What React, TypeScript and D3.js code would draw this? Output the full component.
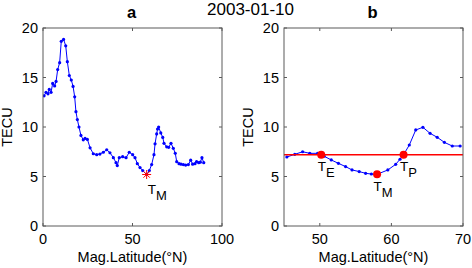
import React from "react";
import * as d3 from "d3";

const latA = [0.6,1.7,2.8,3.5,4.5,5.4,6.5,7.3,8.2,9.3,10.2,11.5,12.7,13.6,14.7,15.8,16.8,17.7,18.4,19.2,20.1,21.2,22.5,23.5,24.8,26.3,28.1,30,31.8,33.7,35.6,37.4,39.3,40.8,41.5,42.6,44.5,46.4,48.2,50.1,51.4,52.7,54.2,55.7,57.9,59.4,60.7,62,62.6,63.5,64.0,64.6,65.8,66.9,67.6,69.1,70.2,71.5,72.8,73.9,74.7,76,77.1,78.4,79.7,81.2,82.5,83.6,84.9,85.8,87,87.9,88.8,89.8];
const tecA = [13.15,13.5,13.35,13.8,13.5,14.4,14.15,14.6,15.8,16.5,18.65,18.85,18.2,16.6,15.2,14.75,14.1,13.05,11.55,10.75,10.0,9.15,8.7,8.85,8.75,7.9,7.3,7.2,7.27,7.45,7.7,7.4,6.9,6.4,6.1,6.9,7.0,6.9,7.45,7.2,6.9,6.3,5.9,5.6,5.2,5.6,6.2,7.2,8.3,9.3,9.8,10.0,9.4,8.95,8.35,8.0,7.95,8.35,7.85,7.35,6.5,6.3,6.25,6.2,6.15,6.2,6.65,6.25,6.3,6.5,6.4,6.45,6.9,6.4];

const latB = [45.4,46.5,47.6,48.6,49.7,50.6,51.6,52.6,53.6,54.5,55.5,56.4,57.2,58.0,59.5,60.6,61.2,61.7,62.5,63.4,64.4,65.4,66.4,67.4,68.5,69.6];
const tecB = [6.97,7.24,7.5,7.34,7.34,7.05,6.67,6.33,6.0,5.66,5.5,5.32,5.25,5.22,5.66,6.23,6.74,7.2,8.18,9.7,9.97,9.36,8.96,8.45,8.08,8.08];

const keyNames = ["E", "M", "P"];
const keyLat = [50.2, 58.0, 61.7];
const keyTec = [7.2, 5.22, 7.2];
const thresholdTec = 7.2;

const minLatA = 57.9;
const minTecA = 5.2;

const yTicks = [0, 5, 10, 15, 20];
const xTicksA = [0, 50, 100];
const xTicksB = [50, 60, 70];

const dateTitle = "2003-01-10";
const xLabel = "Mag.Latitude(°N)";
const yLabel = "TECU";

const FONT = "'Liberation Sans', Arial, sans-serif";
const AXIS = "#5a5a5a";
const BLUE = "#0000ff";
const RED = "#ff0000";

type PanelProps = {
  left: number; right: number; top: number; bottom: number;
  xDomain: [number, number]; xTicks: number[]; title: string;
  children: (x: d3.ScaleLinear<number, number>, y: d3.ScaleLinear<number, number>) => React.ReactNode;
};

function Panel({ left, right, top, bottom, xDomain, xTicks, title, children }: PanelProps) {
  const x = d3.scaleLinear().domain(xDomain).range([left, right]);
  const y = d3.scaleLinear().domain([0, 20]).range([bottom, top]);
  const tl = 3;
  return (
    <g>
      <text x={(left + right) / 2 - 1} y={18.3} textAnchor="middle" fontWeight="bold" fontSize={16.5} fontFamily={FONT}>{title}</text>
      <defs>
        <clipPath id={"clip" + title}>
          <rect x={left} y={top} width={right - left} height={bottom - top} />
        </clipPath>
      </defs>
      <g clipPath={`url(#clip${title})`}>{children(x, y)}</g>
      <rect x={left} y={top} width={right - left} height={bottom - top} fill="none" stroke={AXIS} strokeWidth={1} />
      {yTicks.map((t) => (
        <g key={"y" + t}>
          <line x1={left} x2={left + tl} y1={y(t)} y2={y(t)} stroke={AXIS} />
          <line x1={right} x2={right - tl} y1={y(t)} y2={y(t)} stroke={AXIS} />
          <text x={left - 5} y={y(t) + 5.3} textAnchor="end" fontSize={14.5} fontFamily={FONT}>{t}</text>
        </g>
      ))}
      {xTicks.map((t) => (
        <g key={"x" + t}>
          <line x1={x(t)} x2={x(t)} y1={bottom} y2={bottom - tl} stroke={AXIS} />
          <line x1={x(t)} x2={x(t)} y1={top} y2={top + tl} stroke={AXIS} />
          <text x={x(t)} y={bottom + 18} textAnchor="middle" fontSize={14.5} fontFamily={FONT}>{t}</text>
        </g>
      ))}
      <text x={(left + right) / 2} y={262} textAnchor="middle" fontSize={14.5} fontFamily={FONT}>{xLabel}</text>
      <text transform={`translate(${left - 31},${(top + bottom) / 2}) rotate(-90)`} textAnchor="middle" fontSize={14.5} fontFamily={FONT}>{yLabel}</text>
    </g>
  );
}

function Series({ xs, ys, x, y }: { xs: number[]; ys: number[]; x: any; y: any }) {
  const pts = xs.map((v, i) => [x(v), y(ys[i])] as [number, number]);
  const path = d3.line()(pts) || "";
  return (
    <g>
      <path d={path} fill="none" stroke={BLUE} strokeWidth={1} />
      {pts.map((p, i) => (
        <circle key={i} cx={p[0]} cy={p[1]} r={1.6} fill={BLUE} />
      ))}
    </g>
  );
}

function SubLabel({ px, py, sub, dx, dy }: { px: number; py: number; sub: string; dx: number; dy: number }) {
  return (
    <text x={px + dx} y={py + dy} fontSize={13.5} fontFamily={FONT}>
      T<tspan dy={6.5} fontSize={13}>{sub}</tspan>
    </text>
  );
}

function Star({ cx, cy }: { cx: number; cy: number }) {
  const r = 4.5;
  const angles = [0, 45, 90, 135];
  return (
    <g stroke={RED} strokeWidth={1}>
      {angles.map((a) => {
        const rad = (a * Math.PI) / 180;
        return <line key={a} x1={cx - r * Math.cos(rad)} y1={cy - r * Math.sin(rad)} x2={cx + r * Math.cos(rad)} y2={cy + r * Math.sin(rad)} />;
      })}
    </g>
  );
}

export default function App() {
  return (
    <svg width={472} height={268} style={{ position: "absolute", left: 0, top: 0, background: "#fff" }}>
      <rect width={472} height={268} fill="#fff" />
      <text x={250.5} y={15} textAnchor="middle" fontSize={17} fontFamily={FONT}>{dateTitle}</text>
      <Panel left={43} right={222} top={28} bottom={226} xDomain={[0, 100]} xTicks={xTicksA} title="a">
        {(x, y) => (
          <g>
            <Series xs={latA} ys={tecA} x={x} y={y} />
            <Star cx={x(minLatA)} cy={y(minTecA)} />
          </g>
        )}
      </Panel>
      <SubLabel px={43 + (minLatA / 100) * 179} py={226 - minTecA * 9.9} sub="M" dx={1} dy={19} />
      <Panel left={284} right={463} top={28} bottom={226} xDomain={[45, 70]} xTicks={xTicksB} title="b">
        {(x, y) => (
          <g>
            <Series xs={latB} ys={tecB} x={x} y={y} />
            <line x1={x(45)} x2={x(70)} y1={y(thresholdTec)} y2={y(thresholdTec)} stroke={RED} strokeWidth={1.5} />
            {keyLat.map((l, i) => (
              <circle key={i} cx={x(l)} cy={y(keyTec[i])} r={4} fill={RED} />
            ))}
          </g>
        )}
      </Panel>
      {keyLat.map((l, i) => {
        const x = d3.scaleLinear().domain([45, 70]).range([284, 463]);
        const y = d3.scaleLinear().domain([0, 20]).range([226, 28]);
        return <SubLabel key={i} px={x(l)} py={y(keyTec[i])} sub={keyNames[i]} dx={-3.5} dy={i === 1 ? 16.6 : 15.8} />;
      })}
    </svg>
  );
}
